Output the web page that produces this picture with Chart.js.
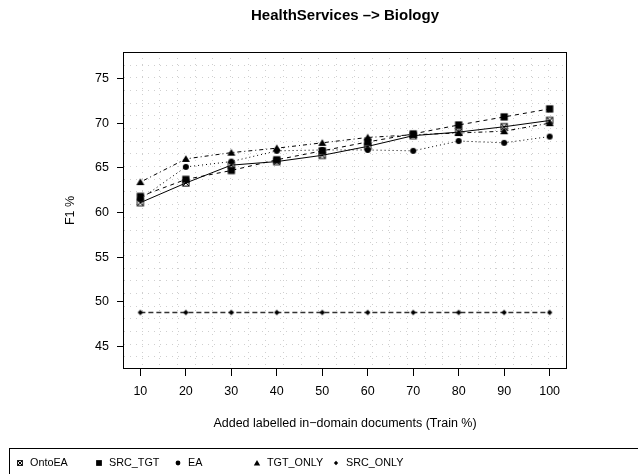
<!DOCTYPE html>
<html>
<head>
<meta charset="utf-8">
<script src="https://cdn.jsdelivr.net/npm/chart.js@4.4.1/dist/chart.umd.min.js"></script>
<style>
  html, body { margin: 0; padding: 0; background: #ffffff; }
  #wrap { width: 638px; height: 474px; }
</style>
</head>
<body>
<div id="wrap"><canvas id="chart" width="638" height="474"></canvas></div>
<script>
// Training share of in-domain documents (x) and F1 scores per method
const trainPct  = [10, 20, 30, 40, 50, 60, 70, 80, 90, 100];
const ontoEA    = [61.1, 63.3, 65.3, 65.7, 66.4, 67.4, 68.6, 69.0, 69.6, 70.3];
const srcTgt    = [61.8, 63.7, 64.7, 65.9, 66.9, 67.9, 68.8, 69.8, 70.7, 71.6];
const ea        = [61.5, 65.1, 65.7, 66.9, 67.0, 67.0, 66.9, 68.0, 67.8, 68.5];
const tgtOnly   = [63.4, 66.0, 66.7, 67.2, 67.8, 68.4, 68.7, 68.9, 69.1, 70.0];
const srcOnly   = [48.8, 48.8, 48.8, 48.8, 48.8, 48.8, 48.8, 48.8, 48.8, 48.8];

const seriesNames = ['OntoEA', 'SRC_TGT', 'EA', 'TGT_ONLY', 'SRC_ONLY'];
const xTickValues = [10, 20, 30, 40, 50, 60, 70, 80, 90, 100];
const yTickValues = [45, 50, 55, 60, 65, 70, 75];

const FONT = "'Liberation Sans', Arial, Helvetica, sans-serif";

// Marker glyphs
function drawMarker(ctx, kind, x, y, s) {
  ctx.save();
  ctx.fillStyle = '#000';
  ctx.strokeStyle = '#000';
  ctx.lineWidth = 1;
  ctx.setLineDash([]);
  const h = 3.6 * s;
  if (kind === 'boxx') {
    ctx.strokeRect(x - h + 0.5, y - h + 0.5, 2 * h - 1, 2 * h - 1);
    ctx.beginPath();
    ctx.moveTo(x - h + 0.5, y - h + 0.5); ctx.lineTo(x + h - 0.5, y + h - 0.5);
    ctx.moveTo(x + h - 0.5, y - h + 0.5); ctx.lineTo(x - h + 0.5, y + h - 0.5);
    ctx.stroke();
  } else if (kind === 'square') {
    ctx.fillRect(x - h, y - h, 2 * h, 2 * h);
  } else if (kind === 'circle') {
    ctx.beginPath(); ctx.arc(x, y, 3.0 * s, 0, Math.PI * 2); ctx.fill();
  } else if (kind === 'triangle') {
    const w = 4.0 * s;
    ctx.beginPath();
    ctx.moveTo(x, y - 3.8 * s); ctx.lineTo(x + w, y + 3.1 * s); ctx.lineTo(x - w, y + 3.1 * s);
    ctx.closePath(); ctx.fill();
  } else if (kind === 'diamond') {
    const r = 2.7 * s;
    ctx.beginPath();
    ctx.moveTo(x, y - r); ctx.lineTo(x + r, y); ctx.lineTo(x, y + r); ctx.lineTo(x - r, y);
    ctx.closePath(); ctx.fill();
  }
  ctx.restore();
}

function markerCanvas(kind) {
  const c = document.createElement('canvas');
  c.width = 12; c.height = 12;
  drawMarker(c.getContext('2d'), kind, 6, 6, 1);
  return c;
}

const markerKinds = ['boxx', 'square', 'circle', 'triangle', 'diamond'];
const dashes = [[], [4, 4], [1, 3], [1, 3, 4, 3], [5, 3]];
const widths = [1, 1, 1, 1, 1.3];
const seriesValues = [ontoEA, srcTgt, ea, tgtOnly, srcOnly];

const datasets = seriesNames.map((name, i) => ({
  label: name,
  data: trainPct.map((x, k) => ({ x: x, y: seriesValues[i][k] })),
  borderColor: i === 4 ? '#333' : '#000',
  borderWidth: widths[i],
  borderDash: dashes[i],
  pointStyle: markerCanvas(markerKinds[i]),
  pointRadius: 4,
  tension: 0,
  fill: false
}));

// Dotted background grid (25 x 25 cells) and box round the plot region
const gridAndBox = {
  id: 'gridAndBox',
  beforeDatasetsDraw(chart) {
    const { ctx, chartArea: a } = chart;
    ctx.save();
    ctx.strokeStyle = '#cfcfcf';
    ctx.lineWidth = 1;
    ctx.setLineDash([1, 5]);
    const n = 25;
    for (let i = 1; i < n; i++) {
      const x = Math.round(a.left + (a.right - a.left) * i / n) + 0.5;
      ctx.beginPath(); ctx.moveTo(x, a.top); ctx.lineTo(x, a.bottom); ctx.stroke();
      const y = Math.round(a.top + (a.bottom - a.top) * i / n) + 0.5;
      ctx.beginPath(); ctx.moveTo(a.left, y); ctx.lineTo(a.right, y); ctx.stroke();
    }
    ctx.restore();
  },
  afterDraw(chart) {
    const { ctx, chartArea: a } = chart;
    ctx.save();
    ctx.strokeStyle = '#000';
    ctx.lineWidth = 1;
    ctx.setLineDash([]);
    ctx.strokeRect(Math.round(a.left) - 0.5, Math.round(a.top) + 0.5,
                   Math.round(a.right - a.left) + 1, Math.round(a.bottom - a.top) - 1);

    // Titles
    const cx = (a.left + a.right) / 2;
    const cy = (a.top + a.bottom) / 2;
    ctx.fillStyle = '#000';
    ctx.textAlign = 'center';
    ctx.textBaseline = 'middle';
    ctx.font = 'bold 15px ' + FONT;
    ctx.fillText('HealthServices \u2013> Biology', cx, 16);
    ctx.font = '12.5px ' + FONT;
    ctx.fillText('Added labelled in\u2212domain documents (Train %)', cx, 424);
    ctx.save();
    ctx.translate(71, cy);
    ctx.rotate(-Math.PI / 2);
    ctx.fillText('F1 %', 0, 0);
    ctx.restore();

    // Legend strip along the bottom
    ctx.strokeRect(9.5, 448.5, 700, 60);
    ctx.font = '10.8px ' + FONT;
    ctx.textAlign = 'left';
    const legendX = [20, 99, 178, 257, 336];
    chart.data.datasets.forEach((ds, i) => {
      drawMarker(ctx, markerKinds[i], legendX[i], 463, 0.8);
      ctx.fillStyle = '#000';
      ctx.fillText(ds.label, legendX[i] + 10, 463.5);
    });
    ctx.restore();
  }
};

new Chart(document.getElementById('chart'), {
  type: 'line',
  data: { datasets: datasets },
  options: {
    responsive: false,
    animation: false,
    events: [],
    layout: { padding: { top: 52, right: 72, left: 0, bottom: 0 } },
    plugins: { legend: { display: false }, tooltip: { enabled: false }, title: { display: false } },
    scales: {
      x: {
        type: 'linear',
        min: 6.4,
        max: 103.6,
        afterBuildTicks(s) { s.ticks = xTickValues.map(v => ({ value: v })); },
        afterFit(s) { s.height = 105; },
        grid: { display: true, drawOnChartArea: false, drawTicks: true, tickLength: 7, color: '#000', lineWidth: 1 },
        border: { display: false },
        ticks: { autoSkip: false, maxRotation: 0, padding: 8, color: '#000', font: { family: FONT, size: 12.5 } }
      },
      y: {
        type: 'linear',
        min: 42.47,
        max: 77.97,
        afterBuildTicks(s) { s.ticks = yTickValues.map(v => ({ value: v })); },
        afterFit(s) { s.width = 124; },
        grid: { display: true, drawOnChartArea: false, drawTicks: true, tickLength: 7, color: '#000', lineWidth: 1 },
        border: { display: false },
        ticks: { autoSkip: false, padding: 8, color: '#000', font: { family: FONT, size: 12.5 } }
      }
    }
  },
  plugins: [gridAndBox]
});
</script>
</body>
</html>
